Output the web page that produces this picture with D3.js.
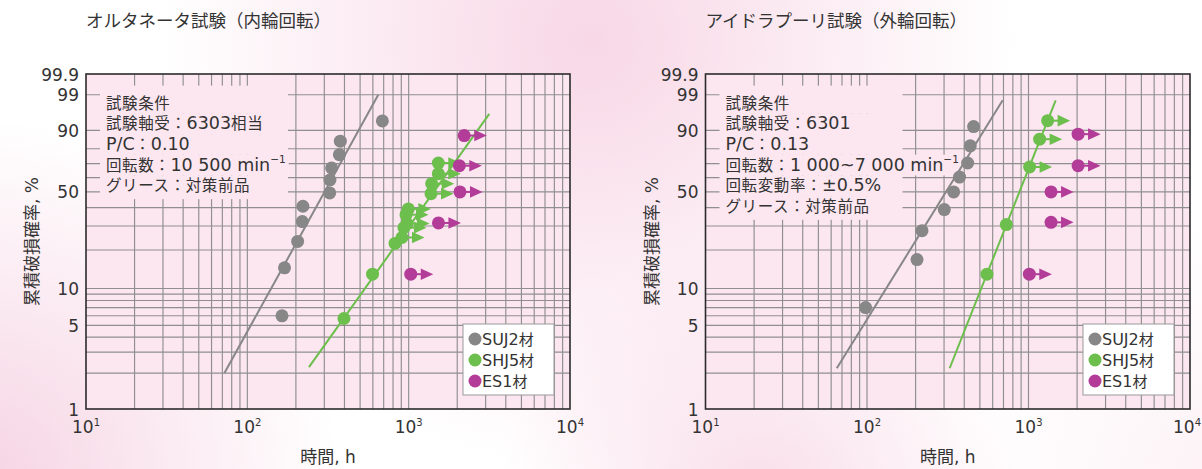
<!DOCTYPE html>
<html>
<head>
<meta charset="utf-8">
<script src="https://cdn.jsdelivr.net/npm/d3@7"></script>
<style>
  html, body { margin: 0; padding: 0; background: #fff; }
  svg { display: block; }
</style>
</head>
<body>
<svg id="chart" width="1202" height="469"></svg>
<script>
// ---------------- data ----------------
const probTickValues = [99.9, 99, 90, 50, 10, 5, 1];
const probTickLabels = ["99.9", "99", "90", "50", "10", "5", "1"];
const probGridValues = [99, 90, 80, 70, 60, 50, 40, 30, 20, 10, 9, 8, 7, 6, 5, 4, 3, 2];
const timeTickValues = [10, 100, 1000, 10000];
const timeTickExponents = ["1", "2", "3", "4"];
const timeGridMultipliers = [2, 3, 4, 5, 6, 7, 8, 9];
const seriesNames = ["SUJ2材", "SHJ5材", "ES1材"];
const xAxisTitle = "時間, h";
const yAxisTitle = "累積破損確率, %";

// オルタネータ試験（内輪回転）
const altTitle = "オルタネータ試験（内輪回転）";
const altConditions = ["試験条件", "試験軸受：6303相当", "P/C：0.10", "回転数：10 500 min⁻¹", "グリース：対策前品"];
const altSujHours = [164, 170, 205, 219, 221, 324, 325, 333, 372, 377, 687];
const altSujProb  = [6.0, 14.6, 23.2, 32.2, 40.8, 49.3, 58.3, 66.9, 76.1, 84.5, 93.7];
const altSujFitHours = [72, 648];
const altSujFitProb  = [2.0, 99.0];
const altShjHours = [397, 597, 823, 909, 935, 963, 977, 995, 1376, 1389, 1527, 1527];
const altShjProb  = [5.7, 13.0, 22.4, 24.8, 29.2, 35.9, 31.2, 39.2, 48.8, 55.7, 62.8, 70.4];
const altShjStopped = [0, 0, 0, 1, 1, 1, 1, 1, 1, 1, 1, 1];
const altShjFitHours = [241, 3160];
const altShjFitProb  = [2.25, 95.8];
const altEsHours = [1030, 1530, 2080, 2060, 2210];
const altEsProb  = [13.0, 31.5, 50.0, 68.5, 87.5];

// アイドラプーリ試験（外輪回転）
const idlTitle = "アイドラプーリ試験（外輪回転）";
const idlConditions = ["試験条件", "試験軸受：6301", "P/C：0.13", "回転数：1 000~7 000 min⁻¹", "回転変動率：±0.5%", "グリース：対策前品"];
const idlSujHours = [98, 204, 219, 301, 344, 374, 420, 436, 457];
const idlSujProb  = [7.0, 16.9, 27.8, 38.8, 50.0, 60.4, 70.4, 81.8, 91.6];
const idlSujFitHours = [65, 692];
const idlSujFitProb  = [2.2, 98.4];
const idlShjHours = [553, 729, 1016, 1172, 1314];
const idlShjProb  = [13.0, 30.7, 67.6, 85.6, 93.8];
const idlShjStopped = [0, 0, 1, 1, 1];
const idlShjFitHours = [325, 1473];
const idlShjFitProb  = [2.2, 98.4];
const idlEsHours = [1012, 1379, 1379, 2028, 2028];
const idlEsProb  = [13.0, 31.8, 50.0, 68.5, 88.2];

// ---------------- styling ----------------
const COLORS = { suj: "#878787", shj: "#6cbf4c", es: "#b23c98" };
const PLOT_FILL = "#fce6ef";
const GRID = "#8f8f8f";
const TEXT = "#333333";
const CJK = "'Noto Sans CJK JP', 'Noto Sans', sans-serif";
const LATIN = "'DejaVu Sans', 'Noto Sans', sans-serif";
const WIDTH = 1202, HEIGHT = 469;

const svg = d3.select("#chart");

// page background: soft pink glow
const defs = svg.append("defs");
function glow(id, cx, cy, r, color, op) {
  const g = defs.append("radialGradient").attr("id", id)
    .attr("gradientUnits", "userSpaceOnUse")
    .attr("cx", cx).attr("cy", cy).attr("r", r);
  g.append("stop").attr("offset", 0).attr("stop-color", color).attr("stop-opacity", op);
  g.append("stop").attr("offset", 1).attr("stop-color", color).attr("stop-opacity", 0);
  svg.append("rect").attr("width", WIDTH).attr("height", HEIGHT).attr("fill", `url(#${id})`);
}
svg.append("rect").attr("width", WIDTH).attr("height", HEIGHT).attr("fill", "#ffffff");
glow("g1", 590, 40, 430, "#f7d3e3", 0.9);
glow("g2", -20, 480, 360, "#f5cfe0", 0.9);
glow("g3", 760, 500, 260, "#f7d5e4", 0.8);
glow("g4", 1220, 480, 260, "#f9dfea", 0.4);

// Weibull probability transform
const weib = p => Math.log(-Math.log(1 - p / 100));

// split a string into CJK / Latin / superscript runs
function richText(sel, str, cjkSize, latinSize, cjkSpacing = 0) {
  const re = /([⁻¹]+)|([\x20-\x7E±]+)|([^\x20-\x7E±⁻¹]+)/g;
  let m, prevSup = false;
  while ((m = re.exec(str)) !== null) {
    if (m[1]) {
      sel.append("tspan").attr("font-family", LATIN).attr("font-size", latinSize * 0.6)
        .attr("dy", -latinSize * 0.42).text(m[1].replace("⁻", "−").replace("¹", "1"));
      prevSup = true;
    } else {
      const t = sel.append("tspan");
      if (prevSup) { t.attr("dy", latinSize * 0.42); prevSup = false; }
      if (m[2]) t.attr("font-family", LATIN).attr("font-size", latinSize).text(m[2]);
      else t.attr("font-family", CJK).attr("font-size", cjkSize)
        .attr("letter-spacing", cjkSpacing).text(m[3]);
    }
  }
  return sel;
}

function drawPanel(cfg) {
  const x = d3.scaleLog().domain([10, 10000]).range([cfg.left, cfg.right]);
  const y = d3.scaleLinear().domain([weib(1), weib(99.9)]).range([cfg.bottom, cfg.top]);
  const g = svg.append("g");

  // title
  g.append("text").attr("x", cfg.left).attr("y", 27)
    .attr("font-family", CJK).attr("font-size", 17.5).attr("fill", TEXT).text(cfg.title);

  // plot area
  g.append("rect").attr("x", cfg.left).attr("y", cfg.top)
    .attr("width", cfg.right - cfg.left).attr("height", cfg.bottom - cfg.top)
    .attr("fill", PLOT_FILL);

  // grid
  const vLines = [];
  [10, 100, 1000].forEach(d => timeGridMultipliers.forEach(k => vLines.push(d * k)));
  [100, 1000].forEach(v => vLines.push(v));
  g.append("g").selectAll("line").data(vLines).join("line")
    .attr("x1", d => x(d)).attr("x2", d => x(d))
    .attr("y1", cfg.top).attr("y2", cfg.bottom)
    .attr("stroke", GRID).attr("stroke-width", 1.15);
  g.append("g").selectAll("line").data(probGridValues).join("line")
    .attr("x1", cfg.left).attr("x2", cfg.right)
    .attr("y1", d => y(weib(d))).attr("y2", d => y(weib(d)))
    .attr("stroke", GRID).attr("stroke-width", 1.15);

  // condition notes on a backing that hides the grid
  const notes = g.append("g");
  const lineH = 20.7;
  cfg.conditions.forEach((s, i) => {
    const cy = cfg.top + 29 + i * lineH;
    const bg = notes.append("rect");
    const t = notes.append("text").attr("x", cfg.left + 20).attr("y", cy + 5.5).attr("fill", TEXT);
    richText(t, s, 15.5, 17.5, 0.6);
    const bb = t.node().getBBox();
    const x0 = cfg.left + 14;
    const x1 = Math.max(bb.x + bb.width + 3, cfg.left + cfg.noteMinWidth);
    const y0 = cy - lineH / 2 - (i === 0 ? 7 : 0);
    const y1 = cy + lineH / 2 + (i === cfg.conditions.length - 1 ? 3 : 0);
    bg.attr("x", x0).attr("y", y0).attr("width", x1 - x0).attr("height", y1 - y0).attr("fill", PLOT_FILL);
  });

  // fitted lines
  const line = d3.line().x(d => x(d[0])).y(d => y(weib(d[1])));
  g.append("path").datum(d3.zip(cfg.sujFitHours, cfg.sujFitProb)).attr("d", line)
    .attr("stroke", COLORS.suj).attr("stroke-width", 2).attr("fill", "none");
  g.append("path").datum(d3.zip(cfg.shjFitHours, cfg.shjFitProb)).attr("d", line)
    .attr("stroke", COLORS.shj).attr("stroke-width", 2).attr("fill", "none");

  // markers: circle, optionally with a right-pointing arrow
  function markers(hours, probs, stopped, color) {
    const data = hours.map((h, i) => ({ h, p: probs[i], s: stopped[i] }));
    const mg = g.append("g").selectAll("g").data(data).join("g")
      .attr("transform", d => `translate(${x(d.h)},${y(weib(d.p))})`);
    mg.filter(d => d.s).append("line").attr("x1", 0).attr("x2", 12).attr("y1", 0).attr("y2", 0)
      .attr("stroke", color).attr("stroke-width", 2);
    mg.filter(d => d.s).append("path").attr("d", "M10,-5.8L22.5,0L10,5.8Z").attr("fill", color);
    mg.append("circle").attr("r", 6.5).attr("fill", color);
  }
  markers(cfg.sujHours, cfg.sujProb, cfg.sujHours.map(() => 0), COLORS.suj);
  markers(cfg.shjHours, cfg.shjProb, cfg.shjStopped, COLORS.shj);
  markers(cfg.esHours, cfg.esProb, cfg.esHours.map(() => 1), COLORS.es);

  // frame
  g.append("rect").attr("x", cfg.left).attr("y", cfg.top)
    .attr("width", cfg.right - cfg.left).attr("height", cfg.bottom - cfg.top)
    .attr("fill", "none").attr("stroke", "#2b2b2b").attr("stroke-width", 1.6);

  // y tick labels
  g.append("g").selectAll("text").data(probTickValues).join("text")
    .attr("x", cfg.left - 7).attr("y", d => y(weib(d)) + 6.5)
    .attr("text-anchor", "end").attr("font-family", LATIN).attr("font-size", 17)
    .attr("fill", TEXT).text((d, i) => probTickLabels[i]);

  // x tick labels 10^n (kept inside the page at the right edge)
  const xt = g.append("g").selectAll("text").data(timeTickValues).join("text")
    .attr("x", d => x(d)).attr("y", cfg.bottom + 24)
    .attr("text-anchor", "middle").attr("fill", TEXT).attr("font-family", LATIN);
  xt.append("tspan").attr("font-size", 17).text("10");
  xt.append("tspan").attr("font-size", 10).attr("dy", -7).text((d, i) => timeTickExponents[i]);
  xt.each(function () {
    const bb = this.getBBox();
    const over = bb.x + bb.width - (WIDTH - 1);
    if (over > 0) d3.select(this).attr("x", +d3.select(this).attr("x") - over);
  });

  // axis titles
  const xtT = g.append("text").attr("x", (cfg.left + cfg.right) / 2).attr("y", 463)
    .attr("text-anchor", "middle").attr("fill", TEXT);
  richText(xtT, xAxisTitle, 17, 17);
  const ytT = g.append("text")
    .attr("transform", `translate(${cfg.left - 48},${(cfg.top + cfg.bottom) / 2}) rotate(-90)`)
    .attr("text-anchor", "middle").attr("fill", TEXT);
  richText(ytT, yAxisTitle, 17, 17);

  // legend
  const lx = cfg.right - 107, ly = 324;
  const lg = g.append("g");
  lg.append("rect").attr("x", lx).attr("y", ly).attr("width", 91).attr("height", 71)
    .attr("fill", "#ffffff").attr("stroke", "#999").attr("stroke-width", 1);
  const items = lg.selectAll("g").data(seriesNames).join("g")
    .attr("transform", (d, i) => `translate(${lx + 12},${ly + 15 + i * 21})`);
  items.append("circle").attr("r", 6.5).attr("fill", (d, i) => [COLORS.suj, COLORS.shj, COLORS.es][i]);
  items.each(function (d) {
    const t = d3.select(this).append("text").attr("x", 7).attr("y", 5.5).attr("fill", TEXT);
    richText(t, d, 15, 16);
  });
}

drawPanel({
  left: 86, right: 570, top: 74, bottom: 409, noteMinWidth: 202,
  title: altTitle, conditions: altConditions,
  sujHours: altSujHours, sujProb: altSujProb, sujFitHours: altSujFitHours, sujFitProb: altSujFitProb,
  shjHours: altShjHours, shjProb: altShjProb, shjStopped: altShjStopped,
  shjFitHours: altShjFitHours, shjFitProb: altShjFitProb,
  esHours: altEsHours, esProb: altEsProb
});
drawPanel({
  left: 705.5, right: 1190, top: 74, bottom: 409, noteMinWidth: 197,
  title: idlTitle, conditions: idlConditions,
  sujHours: idlSujHours, sujProb: idlSujProb, sujFitHours: idlSujFitHours, sujFitProb: idlSujFitProb,
  shjHours: idlShjHours, shjProb: idlShjProb, shjStopped: idlShjStopped,
  shjFitHours: idlShjFitHours, shjFitProb: idlShjFitProb,
  esHours: idlEsHours, esProb: idlEsProb
});
</script>
</body>
</html>
